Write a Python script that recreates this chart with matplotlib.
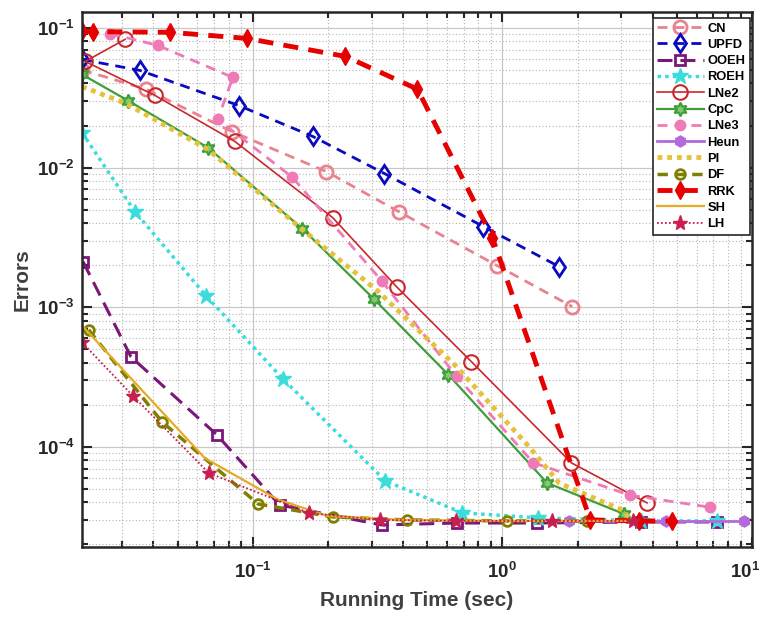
import matplotlib
matplotlib.use('Agg')
import matplotlib.pyplot as plt
import matplotlib.transforms as mtransforms
import numpy as np
from matplotlib.ticker import LogLocator, NullFormatter

plt.rcParams['font.family'] = ['Liberation Sans', 'DejaVu Sans']
plt.rcParams['mathtext.fontset'] = 'custom'
plt.rcParams['mathtext.rm'] = 'Liberation Sans'
plt.rcParams['mathtext.bf'] = 'Liberation Sans:bold'

# running time (sec) and error for each method
cn_t = [0.0207, 0.0373, 0.0824, 0.197, 0.384, 0.955, 1.905]
cn_e = [0.050, 0.0364, 0.0181, 0.00936, 0.00484, 0.00198, 0.00101]

upfd_t = [0.0207, 0.0353, 0.0879, 0.174, 0.337, 0.839, 1.69]
upfd_e = [0.0594, 0.0496, 0.0278, 0.0167, 0.00906, 0.00378, 0.00195]

ooeh_t = [0.0209, 0.0325, 0.0718, 0.128, 0.328, 0.661, 1.37, 3.6, 7.24]
ooeh_e = [0.00212, 4.42e-4, 1.22e-4, 3.84e-5, 2.76e-5, 2.85e-5, 2.85e-5, 2.9e-5, 2.9e-5]

roeh_t = [0.0207, 0.0337, 0.0649, 0.132, 0.34, 0.692, 1.39, 3.6, 7.24]
roeh_e = [0.0178, 0.00484, 0.00121, 3.07e-4, 5.7e-5, 3.37e-5, 3.1e-5, 2.95e-5, 2.95e-5]

lne2_t = [0.0308, 0.0213, 0.0406, 0.0847, 0.209, 0.377, 0.752, 1.89, 3.8]
lne2_e = [0.0828, 0.0575, 0.0328, 0.0154, 0.00438, 0.0014, 4.07e-4, 7.68e-5, 3.97e-5]

cpc_t = [0.0207, 0.0316, 0.0661, 0.158, 0.305, 0.608, 1.51, 3.08]
cpc_e = [0.0464, 0.0302, 0.0139, 0.00365, 0.00115, 3.28e-4, 5.52e-5, 3.3e-5]

lne3_t = [0.0268, 0.0416, 0.0832, 0.0724, 0.144, 0.329, 0.655, 1.33, 3.26, 6.76]
lne3_e = [0.091, 0.075, 0.0442, 0.0221, 0.00853, 0.00154, 3.2e-4, 7.7e-5, 4.5e-5, 3.7e-5]

heun_t = [1.85, 4.53, 9.29]
heun_e = [2.95e-5, 2.95e-5, 2.95e-5]

pi_t = [0.0207, 0.031, 0.0661, 0.158, 0.313, 0.655, 1.28, 1.69, 3.02, 3.28]
pi_e = [0.038, 0.0288, 0.0135, 0.0036, 0.00133, 3.75e-4, 1.0e-4, 5.5e-5, 3.53e-5, 3.0e-5]

df_t = [0.022, 0.0433, 0.105, 0.209, 0.413, 1.04, 2.19]
df_e = [6.9e-4, 1.51e-4, 3.9e-5, 3.15e-5, 3.0e-5, 2.95e-5, 2.95e-5]

rrk_t = [0.0207, 0.0229, 0.0466, 0.0946, 0.235, 0.457, 0.912, 2.25, 3.54, 4.8]
rrk_e = [0.0944, 0.094, 0.093, 0.0841, 0.0625, 0.0364, 0.00315, 3.0e-5, 2.95e-5, 2.95e-5]

sh_t = [0.0207, 0.0643, 0.126, 0.2, 0.4, 1.0, 3.3]
sh_e = [7.4e-4, 8.3e-5, 4.2e-5, 3.2e-5, 3.0e-5, 2.95e-5, 2.95e-5]

lh_t = [0.0207, 0.0331, 0.0667, 0.168, 0.322, 0.654, 1.58, 3.34]
lh_e = [5.6e-4, 2.32e-4, 6.5e-5, 3.36e-5, 3.0e-5, 2.95e-5, 2.95e-5, 2.95e-5]

fig = plt.figure(figsize=(7.65, 6.17), dpi=100)
ax = fig.add_axes([0.1072, 0.1135, 0.983 - 0.1072, 0.9806 - 0.1135])

ax.plot(cn_t, cn_e, color='#E8838F', lw=2, ls=(0, (3.6, 2.5)), marker='o', ms=9.5,
        mfc='none', mew=2, label='CN')
ax.plot(upfd_t, upfd_e, color='#0A0AC0', lw=2, ls=(0, (3.6, 2.5)), marker='d', ms=9.5,
        mfc='none', mew=2, label='UPFD')
ax.plot(ooeh_t, ooeh_e, color='#7A1778', lw=2.2, ls=(0, (4.9, 2.6)), marker='s', ms=7.5,
        mfc='none', mew=2, label='OOEH')
ax.plot(roeh_t, roeh_e, color='#3ADCDC', lw=2.5, ls=(0, (1, 1.2)), marker='*', ms=12,
        label='ROEH')
ax.plot(lne2_t, lne2_e, color='#C8282D', lw=1.2, ls='-', marker='o', ms=10.5,
        mfc='none', mew=1.5, label='LNe2')
ax.plot(cpc_t, cpc_e, color='#3E9E3A', lw=1.6, ls='-', marker=(6, 1, 0), ms=10,
        mfc='#86C870', mew=1.5, label='CpC')
ax.plot(lne3_t, lne3_e, color='#EE7AB6', lw=2, ls=(0, (3.6, 2.5)), marker='o', ms=7.5,
        label='LNe3')
ax.plot(heun_t, heun_e, color='#B46ADC', lw=2, ls='-', marker='h', ms=8, label='Heun')
ax.plot(pi_t, pi_e, color='#E6C23C', lw=3.5, ls=(0, (1, 1)), label='PI')
ax.plot(df_t, df_e, color='#808000', lw=2.5, ls=(0, (3, 2)), marker='o', ms=7,
        mfc='none', mew=2, label='DF')
ax.plot(rrk_t, rrk_e, color='#E60000', lw=3.5, ls=(0, (3.1, 2.1)), marker='d', ms=9,
        label='RRK')
ax.plot(sh_t, sh_e, color='#E6AA28', lw=1.6, ls='-', label='SH')
ax.plot(lh_t, lh_e, color='#C81E50', lw=1.3, ls=(0, (1, 1.2)), marker='*', ms=11,
        label='LH')

ax.set_xscale('log')
ax.set_yscale('log')
ax.set_xlim(0.0207, 10)
ax.set_ylim(1.92e-5, 0.13)

ax.set_xticks([0.1, 1, 10])
ax.set_xticklabels([r'$\mathbf{10^{-1}}$', r'$\mathbf{10^{0}}$', r'$\mathbf{10^{1}}$'])
ax.set_yticks([1e-4, 1e-3, 1e-2, 1e-1])
ax.set_yticklabels([r'$\mathbf{10^{-4}}$', r'$\mathbf{10^{-3}}$', r'$\mathbf{10^{-2}}$',
                    r'$\mathbf{10^{-1}}$'])
ax.xaxis.set_minor_locator(LogLocator(base=10, subs=np.arange(2, 10)))
ax.yaxis.set_minor_locator(LogLocator(base=10, subs=np.arange(2, 10)))
ax.xaxis.set_minor_formatter(NullFormatter())
ax.yaxis.set_minor_formatter(NullFormatter())

ax.tick_params(which='both', direction='in', top=True, right=True, colors='#262626',
               labelsize=13.5, width=1.5)
ax.tick_params(which='major', length=7)
ax.tick_params(which='minor', length=4)
ax.tick_params(axis='x', which='major', pad=11)
ax.tick_params(axis='y', which='major', pad=5)
for s in ax.spines.values():
    s.set_linewidth(1.8)
    s.set_color('#262626')

# keep the 10^1 label inside the picture
last = ax.get_xticklabels()[-1]
last.set_transform(last.get_transform() +
                   mtransforms.ScaledTranslation(-7 / 100, 0, fig.dpi_scale_trans))

ax.grid(which='major', color='#c8c8c8', lw=0.9, ls='-')
ax.grid(which='minor', color='#b4b4b4', lw=0.8, ls=(0, (1, 2)))
ax.set_axisbelow(True)

ax.set_xlabel('Running Time (sec)', fontsize=15, fontweight='bold', color='#404040',
              labelpad=6)
ax.set_ylabel('Errors', fontsize=15, fontweight='bold', color='#404040')

leg = ax.legend(loc='upper right', bbox_to_anchor=(750 / 765, 1 - 18 / 617),
                bbox_transform=fig.transFigure, prop={'weight': 'bold', 'size': 9.3},
                handlelength=3.6, handletextpad=0.3, labelspacing=0.33, borderpad=0.35,
                borderaxespad=0, fancybox=False, framealpha=1, edgecolor='#262626')
leg.get_frame().set_linewidth(1.2)

fig.savefig('out.png', dpi=100)
